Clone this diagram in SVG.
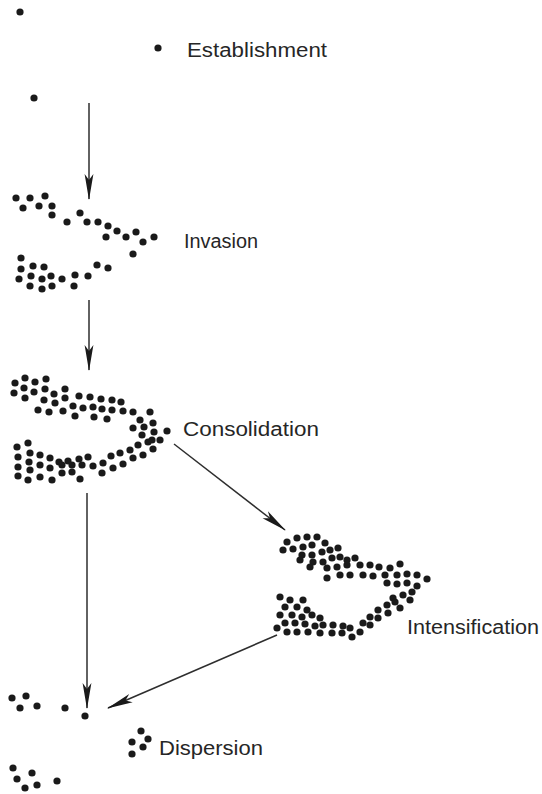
<svg xmlns="http://www.w3.org/2000/svg" width="542" height="794" viewBox="0 0 542 794">
<defs>
<style>
.d circle{fill:#1a1a1a}
.lbl{font-family:"Liberation Sans",Arial,sans-serif;font-size:20px;fill:#262626}
.arr{stroke:#2e2e2e;stroke-width:1.5;fill:none;marker-end:url(#ah)}
</style>
<marker id="ah" markerUnits="userSpaceOnUse" viewBox="0 0 26 10" refX="25" refY="5" markerWidth="26" markerHeight="10" orient="auto">
<path d="M0,0.6 L26,5 L0,9.4 L6,5 Z" fill="#1a1a1a"/>
</marker>
</defs>
<rect width="542" height="794" fill="#fff"/>

<g id="connectors">
<line class="arr" x1="89" y1="103" x2="89" y2="199"/>
<line class="arr" x1="89" y1="300" x2="89" y2="370"/>
<line class="arr" x1="174" y1="444" x2="285" y2="530"/>
<line class="arr" x1="87" y1="493" x2="87" y2="708"/>
<line class="arr" x1="277" y1="635" x2="108" y2="708"/>
</g>

<g id="establishment" class="d">
<circle cx="20" cy="12" r="3.6"/>
<circle cx="158" cy="48" r="3.6"/>
<circle cx="34" cy="98" r="3.6"/>
<text class="lbl" x="187" y="57" textLength="140" lengthAdjust="spacingAndGlyphs">Establishment</text>
</g>

<g id="invasion" class="d">
<circle cx="16" cy="198" r="3.6"/><circle cx="30" cy="198" r="3.6"/><circle cx="45" cy="196" r="3.6"/>
<circle cx="23" cy="208" r="3.6"/><circle cx="39" cy="206" r="3.6"/><circle cx="52" cy="206" r="3.6"/>
<circle cx="52" cy="215" r="3.6"/><circle cx="67" cy="222" r="3.6"/><circle cx="80" cy="213" r="3.6"/>
<circle cx="87" cy="222" r="3.6"/><circle cx="98" cy="222" r="3.6"/><circle cx="108" cy="226" r="3.6"/>
<circle cx="117" cy="231" r="3.6"/><circle cx="136" cy="232" r="3.6"/><circle cx="106" cy="237" r="3.6"/>
<circle cx="126" cy="237" r="3.6"/><circle cx="143" cy="242" r="3.6"/><circle cx="154" cy="237" r="3.6"/>
<circle cx="133" cy="254" r="3.6"/>
<circle cx="21" cy="258" r="3.6"/><circle cx="21" cy="269" r="3.6"/><circle cx="33" cy="266" r="3.6"/>
<circle cx="44" cy="267" r="3.6"/><circle cx="19" cy="279" r="3.6"/><circle cx="31" cy="276" r="3.6"/>
<circle cx="42" cy="279" r="3.6"/><circle cx="51" cy="276" r="3.6"/><circle cx="62" cy="279" r="3.6"/>
<circle cx="75" cy="275" r="3.6"/><circle cx="88" cy="276" r="3.6"/><circle cx="97" cy="265" r="3.6"/>
<circle cx="108" cy="268" r="3.6"/><circle cx="30" cy="286" r="3.6"/><circle cx="42" cy="289" r="3.6"/>
<circle cx="52" cy="286" r="3.6"/><circle cx="74" cy="286" r="3.6"/>
<text class="lbl" x="184" y="248" textLength="74" lengthAdjust="spacingAndGlyphs">Invasion</text>
</g>

<g id="consolidation" class="d">
<circle cx="15" cy="383" r="3.6"/><circle cx="25" cy="378" r="3.6"/><circle cx="35" cy="382" r="3.6"/>
<circle cx="46" cy="379" r="3.6"/><circle cx="14" cy="393" r="3.6"/><circle cx="24" cy="388" r="3.6"/>
<circle cx="34" cy="392" r="3.6"/><circle cx="45" cy="389" r="3.6"/><circle cx="25" cy="398" r="3.6"/>
<circle cx="54" cy="394" r="3.6"/><circle cx="65" cy="389" r="3.6"/><circle cx="44" cy="400" r="3.6"/>
<circle cx="55" cy="403" r="3.6"/><circle cx="65" cy="398" r="3.6"/><circle cx="79" cy="396" r="3.6"/>
<circle cx="90" cy="397" r="3.6"/><circle cx="101" cy="399" r="3.6"/><circle cx="112" cy="400" r="3.6"/>
<circle cx="121" cy="402" r="3.6"/><circle cx="38" cy="410" r="3.6"/><circle cx="49" cy="412" r="3.6"/>
<circle cx="63" cy="411" r="3.6"/><circle cx="73" cy="406" r="3.6"/><circle cx="83" cy="408" r="3.6"/>
<circle cx="93" cy="407" r="3.6"/><circle cx="102" cy="409" r="3.6"/><circle cx="112" cy="410" r="3.6"/>
<circle cx="123" cy="411" r="3.6"/><circle cx="133" cy="412" r="3.6"/><circle cx="150" cy="412" r="3.6"/>
<circle cx="75" cy="416" r="3.6"/><circle cx="94" cy="417" r="3.6"/><circle cx="107" cy="419" r="3.6"/>
<circle cx="140" cy="420" r="3.6"/><circle cx="153" cy="423" r="3.6"/><circle cx="133" cy="428" r="3.6"/>
<circle cx="144" cy="427" r="3.6"/><circle cx="154" cy="432" r="3.6"/><circle cx="167" cy="431" r="3.6"/>
<circle cx="142" cy="435" r="3.6"/><circle cx="152" cy="440" r="3.6"/><circle cx="160" cy="440" r="3.6"/>
<circle cx="17" cy="447" r="3.6"/><circle cx="28" cy="443" r="3.6"/><circle cx="30" cy="453" r="3.6"/>
<circle cx="18" cy="457" r="3.6"/><circle cx="40" cy="455" r="3.6"/><circle cx="50" cy="458" r="3.6"/>
<circle cx="59" cy="462" r="3.6"/><circle cx="68" cy="461" r="3.6"/><circle cx="79" cy="459" r="3.6"/>
<circle cx="88" cy="457" r="3.6"/><circle cx="29" cy="462" r="3.6"/><circle cx="40" cy="465" r="3.6"/>
<circle cx="18" cy="467" r="3.6"/><circle cx="50" cy="468" r="3.6"/><circle cx="62" cy="465" r="3.6"/>
<circle cx="72" cy="465" r="3.6"/><circle cx="82" cy="465" r="3.6"/><circle cx="93" cy="466" r="3.6"/>
<circle cx="103" cy="463" r="3.6"/><circle cx="111" cy="456" r="3.6"/><circle cx="120" cy="453" r="3.6"/>
<circle cx="130" cy="450" r="3.6"/><circle cx="138" cy="445" r="3.6"/><circle cx="148" cy="442" r="3.6"/>
<circle cx="30" cy="470" r="3.6"/><circle cx="18" cy="476" r="3.6"/><circle cx="28" cy="480" r="3.6"/>
<circle cx="40" cy="477" r="3.6"/><circle cx="52" cy="480" r="3.6"/><circle cx="62" cy="473" r="3.6"/>
<circle cx="72" cy="472" r="3.6"/><circle cx="80" cy="479" r="3.6"/><circle cx="102" cy="473" r="3.6"/>
<circle cx="113" cy="468" r="3.6"/><circle cx="123" cy="464" r="3.6"/><circle cx="133" cy="458" r="3.6"/>
<circle cx="143" cy="455" r="3.6"/><circle cx="153" cy="449" r="3.6"/>
<text class="lbl" x="183" y="436" textLength="136" lengthAdjust="spacingAndGlyphs">Consolidation</text>
</g>

<g id="intensification" class="d">
<circle cx="287" cy="542" r="3.6"/><circle cx="297" cy="538" r="3.6"/><circle cx="307" cy="537" r="3.6"/>
<circle cx="317" cy="537" r="3.6"/><circle cx="283" cy="550" r="3.6"/><circle cx="293" cy="549" r="3.6"/>
<circle cx="303" cy="547" r="3.6"/><circle cx="312" cy="545" r="3.6"/><circle cx="325" cy="543" r="3.6"/>
<circle cx="302" cy="555" r="3.6"/><circle cx="312" cy="555" r="3.6"/><circle cx="322" cy="552" r="3.6"/>
<circle cx="330" cy="550" r="3.6"/><circle cx="338" cy="548" r="3.6"/><circle cx="300" cy="560" r="3.6"/>
<circle cx="313" cy="562" r="3.6"/><circle cx="323" cy="562" r="3.6"/><circle cx="332" cy="558" r="3.6"/>
<circle cx="340" cy="557" r="3.6"/><circle cx="347" cy="560" r="3.6"/><circle cx="355" cy="558" r="3.6"/>
<circle cx="310" cy="567" r="3.6"/><circle cx="327" cy="568" r="3.6"/><circle cx="337" cy="567" r="3.6"/>
<circle cx="347" cy="565" r="3.6"/><circle cx="360" cy="565" r="3.6"/><circle cx="370" cy="565" r="3.6"/>
<circle cx="379" cy="567" r="3.6"/><circle cx="390" cy="568" r="3.6"/><circle cx="400" cy="564" r="3.6"/>
<circle cx="327" cy="578" r="3.6"/><circle cx="340" cy="575" r="3.6"/><circle cx="350" cy="575" r="3.6"/>
<circle cx="363" cy="575" r="3.6"/><circle cx="373" cy="576" r="3.6"/><circle cx="385" cy="575" r="3.6"/>
<circle cx="397" cy="575" r="3.6"/><circle cx="407" cy="574" r="3.6"/><circle cx="417" cy="575" r="3.6"/>
<circle cx="427" cy="579" r="3.6"/><circle cx="387" cy="583" r="3.6"/><circle cx="397" cy="584" r="3.6"/>
<circle cx="407" cy="583" r="3.6"/><circle cx="417" cy="586" r="3.6"/><circle cx="412" cy="592" r="3.6"/>
<circle cx="403" cy="595" r="3.6"/><circle cx="393" cy="598" r="3.6"/><circle cx="410" cy="600" r="3.6"/>
<circle cx="280" cy="597" r="3.6"/><circle cx="290" cy="600" r="3.6"/><circle cx="303" cy="600" r="3.6"/>
<circle cx="285" cy="607" r="3.6"/><circle cx="297" cy="607" r="3.6"/><circle cx="307" cy="610" r="3.6"/>
<circle cx="280" cy="615" r="3.6"/><circle cx="292" cy="615" r="3.6"/><circle cx="302" cy="617" r="3.6"/>
<circle cx="312" cy="615" r="3.6"/><circle cx="320" cy="618" r="3.6"/><circle cx="285" cy="623" r="3.6"/>
<circle cx="295" cy="623" r="3.6"/><circle cx="305" cy="624" r="3.6"/><circle cx="315" cy="626" r="3.6"/>
<circle cx="323" cy="625" r="3.6"/><circle cx="333" cy="625" r="3.6"/><circle cx="343" cy="626" r="3.6"/>
<circle cx="277" cy="628" r="3.6"/><circle cx="287" cy="632" r="3.6"/><circle cx="297" cy="632" r="3.6"/>
<circle cx="308" cy="632" r="3.6"/><circle cx="320" cy="633" r="3.6"/><circle cx="332" cy="633" r="3.6"/>
<circle cx="342" cy="633" r="3.6"/><circle cx="352" cy="637" r="3.6"/><circle cx="360" cy="632" r="3.6"/>
<circle cx="363" cy="623" r="3.6"/><circle cx="370" cy="617" r="3.6"/><circle cx="378" cy="610" r="3.6"/>
<circle cx="387" cy="605" r="3.6"/><circle cx="395" cy="602" r="3.6"/><circle cx="400" cy="608" r="3.6"/>
<circle cx="388" cy="613" r="3.6"/><circle cx="378" cy="618" r="3.6"/><circle cx="370" cy="625" r="3.6"/>
<circle cx="350" cy="628" r="3.6"/>
<text class="lbl" x="407" y="634" textLength="132" lengthAdjust="spacingAndGlyphs">Intensification</text>
</g>

<g id="dispersion" class="d">
<circle cx="12" cy="698" r="3.6"/><circle cx="26" cy="696" r="3.6"/><circle cx="20" cy="708" r="3.6"/>
<circle cx="37" cy="706" r="3.6"/><circle cx="65" cy="708" r="3.6"/><circle cx="85" cy="716" r="3.6"/>
<circle cx="141" cy="731" r="3.6"/><circle cx="148" cy="739" r="3.6"/><circle cx="132" cy="742" r="3.6"/>
<circle cx="143" cy="747" r="3.6"/><circle cx="132" cy="754" r="3.6"/>
<circle cx="13" cy="768" r="3.6"/><circle cx="32" cy="773" r="3.6"/><circle cx="17" cy="779" r="3.6"/>
<circle cx="25" cy="788" r="3.6"/><circle cx="37" cy="785" r="3.6"/><circle cx="57" cy="781" r="3.6"/>
<text class="lbl" x="159" y="755" textLength="104" lengthAdjust="spacingAndGlyphs">Dispersion</text>
</g>
</svg>
